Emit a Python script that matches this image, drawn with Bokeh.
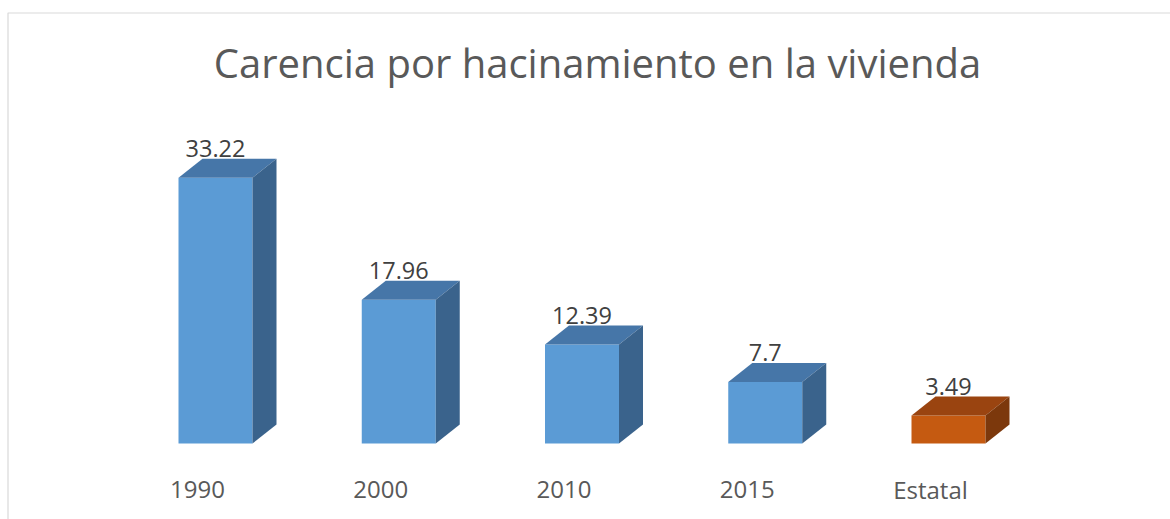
from bokeh.plotting import figure
from bokeh.models import ColumnDataSource, Label, Range1d
from bokeh.core.properties import value
from bokeh.embed import file_html
from bokeh.resources import INLINE

categories = ["1990", "2000", "2010", "2015", "Estatal"]
values = [33.22, 17.96, 12.39, 7.7, 3.49]
labels = ["33.22", "17.96", "12.39", "7.7", "3.49"]
front_colors = ["#5B9BD5", "#5B9BD5", "#5B9BD5", "#5B9BD5", "#C55A11"]
top_colors = ["#4676A8", "#4676A8", "#4676A8", "#4676A8", "#9A4410"]
side_colors = ["#3A638C", "#3A638C", "#3A638C", "#3A638C", "#7C380C"]

W, H = 1170, 519
step_px = 183.25      # pixel distance between categories
first_px = 215        # pixel x of first category front centre
px_per_unit = 8.0
zero_px_from_top = 443
bar_w = 74 / step_px
dx = 24 / step_px
dy = 19 / px_per_unit
FONT = "Open Sans"

x0 = -first_px / step_px
x1 = (W - first_px) / step_px
y1 = zero_px_from_top / px_per_unit
y0 = y1 - H / px_per_unit

p = figure(width=W, height=H, output_backend="svg", toolbar_location=None,
           x_range=Range1d(x0, x1), y_range=Range1d(y0, y1), min_border=0)
p.axis.visible = False
p.grid.visible = False
p.outline_line_color = None
p.background_fill_color = "white"
p.border_fill_color = "white"

def px_x(px):
    return x0 + px / step_px

def px_y(px_from_top):
    return y1 - px_from_top / px_per_unit

# chart area border (top & left only visible, rest cropped)
p.quad(left=px_x(7.5), right=px_x(W + 20), top=px_y(12.5), bottom=px_y(H + 20),
       fill_color=None, line_color="#D9D9D9", line_width=1.2)

xs = list(range(len(categories)))

front = ColumnDataSource(dict(x=xs, top=values, color=front_colors))
p.vbar(x="x", top="top", bottom=0, width=bar_w, fill_color="color",
       line_color=None, source=front)

top_xs, top_ys, side_xs, side_ys = [], [], [], []
for i, v in zip(xs, values):
    l, r = i - bar_w / 2, i + bar_w / 2
    top_xs.append([l, r, r + dx, l + dx])
    top_ys.append([v, v, v + dy, v + dy])
    side_xs.append([r, r + dx, r + dx, r])
    side_ys.append([0, dy, v + dy, v])

p.patches(xs=top_xs, ys=top_ys, fill_color=top_colors, line_color=None)
p.patches(xs=side_xs, ys=side_ys, fill_color=side_colors, line_color=None)

lab = ColumnDataSource(dict(x=xs, y=values, text=labels))
p.text(x="x", y="y", text="text", source=lab, text_align="center",
       text_baseline="alphabetic", y_offset=-dy * px_per_unit - 10,
       text_font=value(FONT), text_font_size="23.5px", text_color="#404040")

cat = ColumnDataSource(dict(x=xs, y=[0] * len(xs), text=categories))
p.text(x="x", y="y", text="text", source=cat, text_align="center",
       text_baseline="alphabetic", x_offset=-18, y_offset=46,
       text_font=value(FONT), text_font_size="24px", text_color="#595959")

title = Label(x=597, y=H - 62, x_units="screen", y_units="screen",
              text="Carencia por hacinamiento en la vivienda",
              text_align="center", text_baseline="middle",
              text_font=FONT, text_font_size="40px", text_color="#595959")
p.add_layout(title)

open("out.html", "w").write(file_html(p, INLINE))
